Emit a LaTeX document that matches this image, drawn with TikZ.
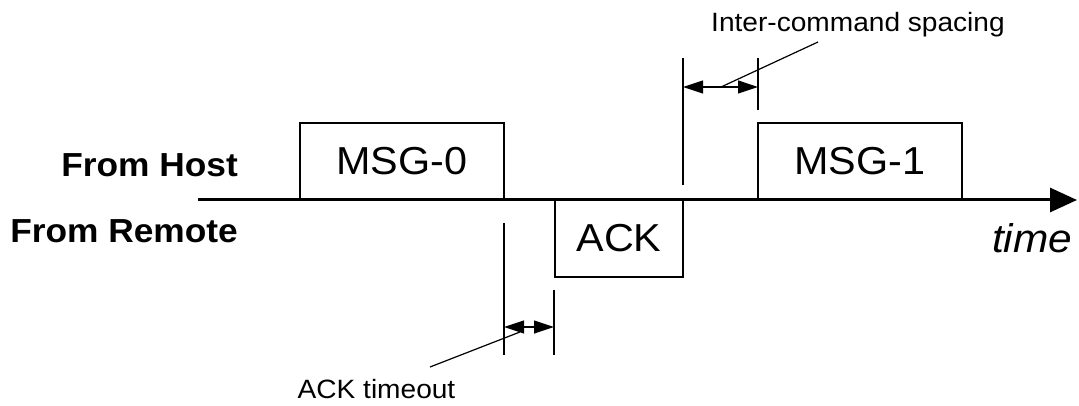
\documentclass[tikz,border=0pt]{standalone}
\usepackage{fontspec}
\setmainfont{Liberation Sans}[FakeStretch=1.06]
\usetikzlibrary{arrows.meta}
\begin{document}
\begin{tikzpicture}[x=1pt,y=-1pt,
  msgbox/.style={draw,line width=1.8pt,minimum width=204pt,minimum height=77pt,inner sep=0pt,font=\fontsize{39}{46}\selectfont},
  acknode/.style={draw,line width=1.8pt,minimum width=128pt,minimum height=77pt,inner sep=0pt,font=\fontsize{39}{46}\selectfont},
  chanlabel/.style={inner sep=0pt,anchor=base east,font=\bfseries\fontsize{33.3}{40}\selectfont},
  smalllabel/.style={inner sep=0pt,anchor=base,font=\fontsize{26.5}{32}\selectfont},
  axisline/.style={line width=3pt,-{Triangle[length=27pt,width=24pt]}},
  dimline/.style={line width=1.4pt},
  dimarrow/.style={line width=1.2pt,{Triangle[length=20pt,width=13pt]}-{Triangle[length=20pt,width=13pt]}},
  leader/.style={line width=1.2pt}]
\useasboundingbox (0,0) rectangle (1079,406);
% axis
\coordinate (axstart) at (198,200);
\coordinate (axend) at (1077,200);
\draw[axisline] (axstart) -- (axend);
% boxes
\node[msgbox] (msg0) at (402,161.5) {MSG-0};
\node[acknode] (ack) at (619,238.5) {ACK};
\node[msgbox] (msg1) at (860,161.5) {MSG-1};
% labels
\node[chanlabel] (host) at (238,177) {From Host};
\node[chanlabel] (remote) at (238,243) {From Remote};
\node[inner sep=0pt,anchor=base west,font=\itshape\fontsize{40}{48}\selectfont] (time) at (992,252) {time};
\node[smalllabel] (ics) at (858,32) {Inter-command spacing};
\node[smalllabel] (ackto) at (376.5,398) {ACK timeout};
% ACK timeout dimension
\coordinate (a1t) at (504,223); \coordinate (a1b) at (504,355);
\coordinate (a2t) at (554,290); \coordinate (a2b) at (554,355);
\coordinate (a1m) at (504,327); \coordinate (a2m) at (554,327);
\draw[dimline] (a1t) -- (a1b);
\draw[dimline] (a2t) -- (a2b);
\draw[dimarrow] (a1m) -- (a2m);
\coordinate (ackleadA) at (430,367); \coordinate (ackleadB) at (520,332);
\draw[leader] (ackleadA) -- (ackleadB);
% Inter-command dimension
\coordinate (i1t) at (683,58); \coordinate (i1b) at (683,185);
\coordinate (i2t) at (758,58); \coordinate (i2b) at (758,110);
\coordinate (i1m) at (683,87); \coordinate (i2m) at (758,87);
\draw[dimline] (i1t) -- (i1b);
\draw[dimline] (i2t) -- (i2b);
\draw[dimarrow] (i1m) -- (i2m);
\coordinate (icsleadA) at (818,42); \coordinate (icsleadB) at (721,87);
\draw[leader] (icsleadA) -- (icsleadB);
\end{tikzpicture}
\end{document}
